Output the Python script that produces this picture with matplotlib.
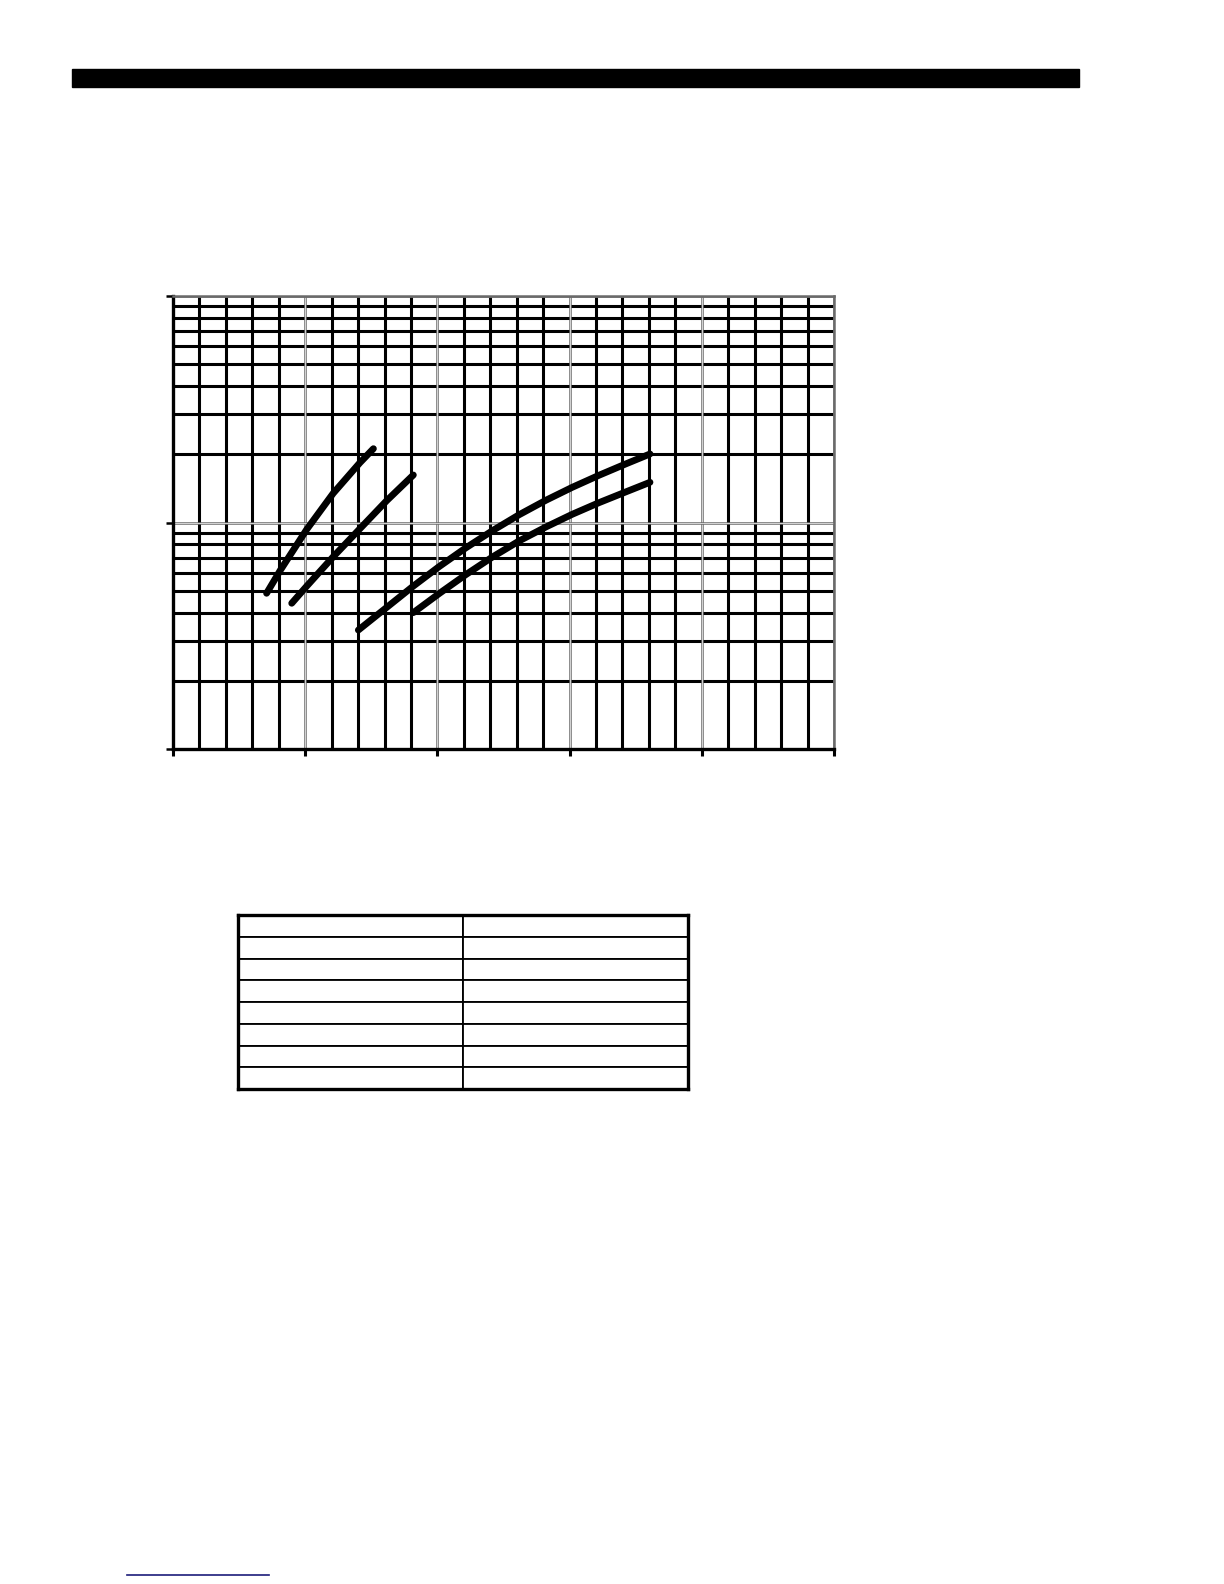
import numpy as np
import matplotlib.pyplot as plt
from matplotlib.patches import Rectangle
from matplotlib.lines import Line2D

# curve data (x linear 0-250, y log 10-1000)
curve1_x = [35.4, 40.5, 50.6, 60.6, 70.7, 75.8]
curve1_y = [48.7, 61.3, 93.3, 134.6, 183.7, 211.8]

curve2_x = [44.9, 50.6, 60.6, 70.7, 80.8, 90.9]
curve2_y = [44.0, 52.4, 70.6, 93.9, 124.8, 162.1]

curve3_x = [70.1, 80.4, 90.9, 100.6, 110.7, 120.8, 130.9, 141.0, 151.0, 161.1, 171.2, 180.4]
curve3_y = [33.5, 41.8, 52.4, 63.8, 77.2, 92.0, 108.2, 125.3, 143.0, 161.6, 181.3, 200.7]

curve4_x = [90.9, 100.6, 110.7, 120.8, 130.9, 141.0, 151.0, 161.1, 171.2, 180.4]
curve4_y = [40.0, 48.5, 58.8, 70.4, 82.9, 95.5, 108.7, 122.3, 136.4, 150.5]

x_major = [0, 50, 100, 150, 200, 250]
x_minor = [v for v in range(0, 251, 10) if v % 50]
y_major = [10, 100, 1000]
y_minor = [m * d for d in (10, 100) for m in range(2, 10)]

table_rows = 8
table_cols = 2

W, H = 1224, 1584
fig = plt.figure(figsize=(W / 100, H / 100), dpi=100)


def frac(x0, y0, x1, y1):
    # pixel box (top-left origin) -> figure fraction rect
    return [x0 / W, 1 - y1 / H, (x1 - x0) / W, (y1 - y0) / H]


# black header bar
fig.patches.append(Rectangle((72 / W, 1 - 87 / H), 1007 / W, 18 / H,
                             transform=fig.transFigure, color='black'))

# chart
ax = fig.add_axes(frac(173, 296, 834, 749))
ax.set_yscale('log')
ax.set_xlim(0, 250)
ax.set_ylim(10, 1000)

for v in x_minor:
    ax.axvline(v, color='black', lw=2.2, zorder=1)
for v in y_minor:
    ax.axhline(v, color='black', lw=2.2, zorder=1)
for v in x_major[1:]:
    ax.axvline(v, color='#6a6a6a', lw=1.8, zorder=2)
    ax.axvline(v, color='white', lw=0.5, zorder=2)
for v in y_major[1:]:
    ax.axhline(v, color='#6a6a6a', lw=1.8, zorder=2)
    ax.axhline(v, color='white', lw=0.5, zorder=2)

for xs, ys in [(curve1_x, curve1_y), (curve2_x, curve2_y),
               (curve3_x, curve3_y), (curve4_x, curve4_y)]:
    ax.plot(xs, ys, color='black', lw=4.9, solid_capstyle='round',
            solid_joinstyle='round', zorder=5)

ax.set_xticks(x_major)
ax.set_xticklabels([])
ax.set_yticks(y_major)
ax.set_yticklabels([])
ax.set_yticks([], minor=True)
ax.tick_params(axis='x', direction='out', length=5, width=2.2, color='black')
ax.tick_params(axis='y', direction='out', length=5, width=1.8, color='black')
ax.tick_params(which='minor', length=0)

for side in ('left', 'bottom'):
    ax.spines[side].set_linewidth(2.4)
    ax.spines[side].set_color('black')
for side in ('top', 'right'):
    ax.spines[side].set_linewidth(1.8)
    ax.spines[side].set_color('#6a6a6a')

# empty table below the chart
tax = fig.add_axes(frac(238, 915, 688, 1089))
tax.set_xticks([])
tax.set_yticks([])
tbl = tax.table(cellText=[[''] * table_cols for _ in range(table_rows)],
                bbox=[0, 0, 1, 1], colWidths=[0.5, 0.5], edges='closed')
for cell in tbl.get_celld().values():
    cell.set_linewidth(1.3)
for s in tax.spines.values():
    s.set_linewidth(2.4)
    s.set_zorder(10)

# underline at page bottom
fig.lines.append(Line2D([127 / W, 269 / W], [1 - 1575 / H] * 2,
                        transform=fig.transFigure, color='#1c1c7a', lw=1.2))

fig.savefig('out.png', dpi=100, facecolor='white')
